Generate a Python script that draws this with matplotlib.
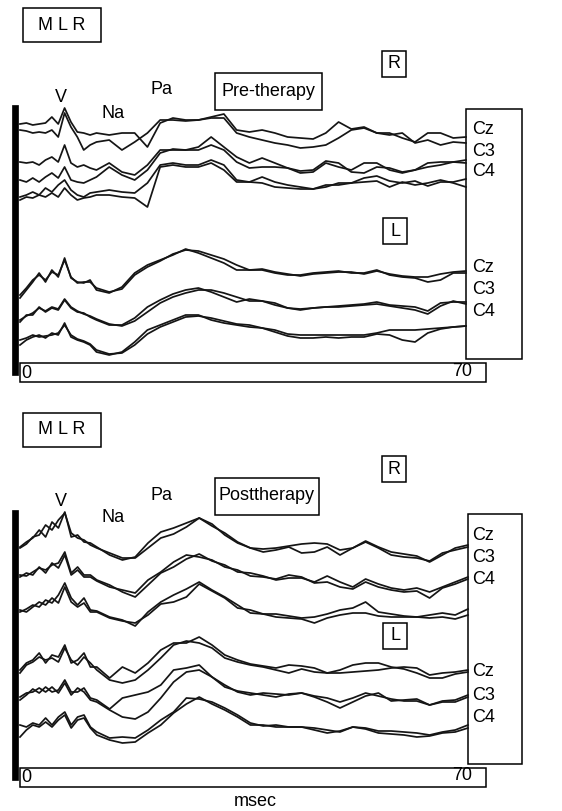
import matplotlib
matplotlib.use("Agg")
import matplotlib.pyplot as plt
from matplotlib.patches import Rectangle

plt.rcParams['font.family'] = ['Liberation Sans', 'DejaVu Sans']

# time base in msec (1 ms steps early, 2 ms steps later)
t_ms = list(range(0, 13)) + list(range(14, 71, 2))

# ---- Pre-therapy, right side (two overlaid runs per channel) ----
pre_r_cz_a = [6, 7, 5, 6, 7, 13, 6, 22, 8, -2, -3, -5, -3,
              -5, -3, -3, -17, 7, 12, 10, 10, 13, 16, 0, -2, 0, -3, -7, -8, -9, -3, 8, 1, 3, -3, -3, -8, -12, -3, -3, -8, -7]
pre_r_cz_b = [0, -1, -3, -2, -3, 0, -7, 17, 3, -7, -20, -15, -12,
              -10, -20, -12, -3, 10, 10, 9, 10, 12, 12, -3, -7, -10, -13, -15, -18, -17, -15, -8, 0, 2, -3, -5, -3, -13, -10, -15, -12, -13]
pre_r_c3_a = [3, 2, 3, 0, 5, 8, 3, 20, 2, -2, 0, -3, -5,
              2, -7, -10, 0, 15, 15, 15, 18, 28, 18, 8, 2, 7, 2, -3, -8, -7, 2, -2, -5, 2, 2, -5, -8, -5, -2, 0, 3, 5]
pre_r_c3_b = [-15, -17, -13, -17, -12, -8, -13, -2, -15, -17, -18, -15, -12,
              -2, -10, -15, -5, 12, 16, 15, 15, 20, 15, 3, -3, -2, -2, -3, -6, -5, 4, 2, -7, -8, -2, -3, -7, -5, 2, 3, 3, 2]
pre_r_c4_a = [-7, -5, -2, -5, 2, -2, 5, 10, 0, -5, -7, -3, -2,
              0, -2, -3, 7, 25, 27, 25, 25, 30, 25, 10, 8, 13, 8, 5, 3, 1, 3, 7, 7, 12, 14, 9, 7, 9, 4, 8, 8, 11]
pre_r_c4_b = [-10, -7, -8, -5, -7, -3, -7, 2, -5, -10, -8, -7, -5,
              -5, -7, -8, -17, 23, 25, 23, 23, 27, 20, 8, 8, 7, 3, 2, 1, 1, 5, 5, 7, 8, 9, 3, 8, 5, 7, 10, 7, 3]

# ---- Pre-therapy, left side ----
pre_l_cz_a = [-13, -5, 3, 12, 3, 15, 8, 27, 7, 3, 2, 5, -5,
              -8, -2, 12, 20, 25, 30, 36, 32, 27, 22, 15, 15, 15, 12, 10, 10, 12, 13, 14, 12, 12, 15, 10, 8, 7, 3, 5, 12, 12]
pre_l_cz_b = [-10, -3, 5, 10, 5, 13, 10, 25, 8, 2, 3, 3, -3,
              -7, -4, 10, 18, 24, 31, 35, 34, 30, 26, 20, 15, 16, 13, 11, 9, 11, 12, 13, 13, 11, 14, 11, 9, 8, 8, 11, 13, 14]
pre_l_c3_a = [-12, -5, -5, 3, -2, 2, 0, 10, 2, -2, -3, -7, -10,
              -15, -15, -8, 3, 10, 16, 20, 22, 18, 13, 8, 11, 9, 7, 2, 1, 2, 3, 4, 5, 6, 8, 5, 4, 3, -1, 7, 8, 8]
pre_l_c3_b = [-10, -6, -3, 2, -1, 3, 1, 11, 3, -1, -4, -6, -9,
              -14, -16, -11, -2, 7, 13, 17, 20, 20, 17, 13, 9, 9, 5, 2, 0, 2, 3, 3, 4, 5, 6, 4, 2, 0, -4, 4, 9, 6]
pre_l_c4_a = [-7, -2, 1, 3, 0, 5, 3, 15, 1, -2, -4, -7, -14,
              -17, -14, -4, 8, 13, 18, 23, 23, 18, 15, 13, 11, 10, 6, 2, 0, 0, 1, 0, 1, 1, 4, 3, -2, -4, 5, 9, 11, 12]
pre_l_c4_b = [-2, 0, 3, 1, 2, 3, 5, 13, 3, -1, -3, -6, -12,
              -16, -15, -7, 4, 11, 16, 21, 22, 20, 17, 14, 13, 10, 8, 4, 3, 3, 3, 3, 3, 3, 5, 8, 8, 8, 9, 10, 11, 12]

# ---- Posttherapy, right side ----
post_r_cz_a = [-2, 3, 7, 15, 8, 23, 17, 33, 8, 10, 3, 2, -2,
               -10, -15, -12, 2, 13, 17, 22, 27, 19, 12, 3, -3, -4, -3, -1, 1, 2, 1, -5, -3, 4, -2, -7, -9, -11, -17, -10, -3, 0]
post_r_cz_b = [-3, 1, 8, 10, 20, 15, 25, 32, 12, 7, 5, 0, -3,
               -8, -13, -13, -3, 7, 11, 18, 27, 21, 10, 2, -3, -7, -5, -2, -8, -7, -2, -10, -3, 3, -3, -10, -12, -13, -16, -8, -5, -2]
post_r_c3_a = [0, -1, 3, 7, 5, 10, 12, 23, 2, 8, 0, 0, -5,
               -10, -17, -22, -10, 2, 8, 16, 21, 14, 10, 3, 2, -1, -5, -3, -3, -7, -1, -7, -12, -4, -9, -13, -15, -13, -17, -12, -7, -2]
post_r_c3_b = [-2, 2, 0, 8, 2, 12, 7, 20, 0, 5, -2, -2, -6,
               -12, -15, -18, -5, 3, 13, 20, 18, 15, 8, 5, -1, -2, -4, 0, -2, -8, -7, -12, -14, -7, -12, -15, -17, -16, -23, -13, -9, -4]
post_r_c4_a = [-2, 1, 5, 3, 10, 7, 15, 27, 12, 5, 12, 0, -1,
               -7, -10, -16, -2, 8, 15, 21, 28, 20, 13, 5, -3, -4, -4, -6, -8, -7, -4, 0, 2, 8, -2, -4, -6, -7, -5, -3, -5, 1]
post_r_c4_b = [0, -2, 3, 8, 5, 12, 7, 23, 8, 3, 7, -2, -2,
               -8, -11, -13, -5, 6, 8, 13, 26, 19, 12, 2, 0, -4, -7, -8, -9, -13, -8, -5, -3, -3, -6, -7, -7, -7, -8, -7, -9, -5]

# ---- Posttherapy, left side ----
post_l_cz_a = [0, 7, 10, 17, 7, 15, 13, 25, 7, 10, 17, 3, 3,
               -8, 3, -3, 7, 20, 27, 27, 33, 25, 15, 10, 6, 4, 2, 5, 4, 2, -3, 0, 5, 7, 7, 3, 1, -3, -8, -8, -4, -2]
post_l_cz_b = [-3, 5, 8, 13, 10, 12, 8, 22, 10, 5, 13, 7, 0,
               -10, -13, -10, 0, 12, 25, 29, 27, 22, 12, 8, 5, 3, 0, -3, 1, -2, -3, -3, -2, -1, 0, 2, 3, 2, -5, -3, -2, 0]
post_l_c3_a = [-5, 0, 6, 2, 8, 3, 5, 15, 3, 3, 7, -3, -5,
               -14, -3, 0, 3, 10, 25, 27, 30, 18, 8, 4, 2, 0, -2, 1, 2, -2, -7, -13, -7, -1, 2, -6, -5, -4, -10, -6, -5, 0]
post_l_c3_b = [-2, 2, 3, 7, 3, 8, 2, 12, 0, 7, 3, -5, -7,
               -15, -22, -24, -17, -3, 13, 23, 25, 18, 10, 3, 0, 2, 1, 0, 2, -1, -3, -7, -3, 2, -1, -4, -6, -6, -10, -7, -7, -2]
post_l_c4_a = [0, -2, 2, 0, 7, 0, 8, 13, 0, 8, 10, -2, -7,
               -13, -12, -13, -5, 5, 13, 27, 26, 23, 17, 10, 2, -1, 0, -2, -2, -3, -5, -7, -2, -3, -6, -6, -7, -8, -10, -7, -5, 0]
post_l_c4_b = [-12, -5, 0, -2, 3, -2, 5, 10, -3, 5, 7, -3, -10,
               -15, -18, -17, -8, 0, 12, 21, 28, 21, 15, 8, 0, 0, -2, -2, -2, -5, -8, -6, -2, -4, -8, -9, -10, -12, -11, -8, -7, -3]

channels = ['Cz', 'C3', 'C4']

W, H = 562, 811
fig = plt.figure(figsize=(W / 100, H / 100), dpi=100)
fig.patch.set_facecolor('white')

# overlay in pixel coordinates for boxes and labels
bg = fig.add_axes([0, 0, 1, 1])
bg.set_xlim(0, W)
bg.set_ylim(H, 0)
bg.axis('off')


def box(x0, y0, x1, y1, lw=1.1, fill=False):
    bg.add_patch(Rectangle((x0, y0), x1 - x0, y1 - y0, fill=fill,
                           facecolor='black' if fill else 'none',
                           edgecolor='black', lw=lw))


def txt(x, y, s, size=13, ha='center'):
    bg.text(x, y, s, fontsize=size, ha=ha, va='center', color='black')


def panel(dy, x_right, title, tw, traces_r, traces_l, offs_r, offs_l, lab_r, lab_l):
    # header boxes
    box(23, 8 + dy, 101, 42 + dy)
    txt(62, 25 + dy, 'M L R')
    box(382, 51 + dy, 406, 77 + dy)
    txt(394, 64 + dy, 'R')
    box(215, 73 + dy, 215 + tw, 110 + dy)
    txt(215 + tw / 2, 91 + dy, title)
    txt(61, 97 + dy, 'V')
    txt(113, 113 + dy, 'Na')
    txt(161, 90 + dy, 'Pa')
    # thick left bar, right label box, bottom axis box
    box(12, 105 + dy, 18, 375 + dy, lw=0.5, fill=True)
    box(x_right, 109 + dy, 522, 359 + dy)
    box(20, 363 + dy, 486, 382 + dy)
    txt(21, 373 + dy, '0', ha='left')
    txt(472, 371 + dy, '70', ha='right')
    for y, s in zip(lab_r, channels):
        txt(472, y + dy, s, ha='left')
    for y, s in zip(lab_l, channels):
        txt(472, y + dy, s, ha='left')
    box(383, 218 + dy, 407, 244 + dy)
    txt(395, 231 + dy, 'L')

    # waveform axes: x in msec, y in px below panel top
    top = 100 + dy
    ax = fig.add_axes([20 / W, 1 - (top + 260) / H, (x_right - 20) / W, 260 / H])
    ax.set_xlim(0, 70)
    ax.set_ylim(260, 0)
    ax.axis('off')
    ax.patch.set_alpha(0)
    for pair, off in zip(traces_r + traces_l, offs_r + offs_l):
        for tr in pair:
            ax.plot(t_ms, [off - v for v in tr], color='#151515', lw=1.25,
                    solid_joinstyle='round', clip_on=False)


panel(0, 466, 'Pre-therapy', 107,
      [(pre_r_cz_a, pre_r_cz_b), (pre_r_c3_a, pre_r_c3_b), (pre_r_c4_a, pre_r_c4_b)],
      [(pre_l_cz_a, pre_l_cz_b), (pre_l_c3_a, pre_l_c3_b), (pre_l_c4_a, pre_l_c4_b)],
      [30, 65, 90], [185, 210, 238], [130, 151, 172], [267, 289, 312])

panel(405, 468, 'Posttherapy', 104,
      [(post_r_cz_a, post_r_cz_b), (post_r_c3_a, post_r_c3_b), (post_r_c4_a, post_r_c4_b)],
      [(post_l_cz_a, post_l_cz_b), (post_l_c3_a, post_l_c3_b), (post_l_c4_a, post_l_c4_b)],
      [40, 70, 105], [165, 190, 220], [130, 152, 175], [267, 290, 313])

txt(255, 802, 'msec')

fig.savefig('out.png', dpi=100, facecolor='white')
